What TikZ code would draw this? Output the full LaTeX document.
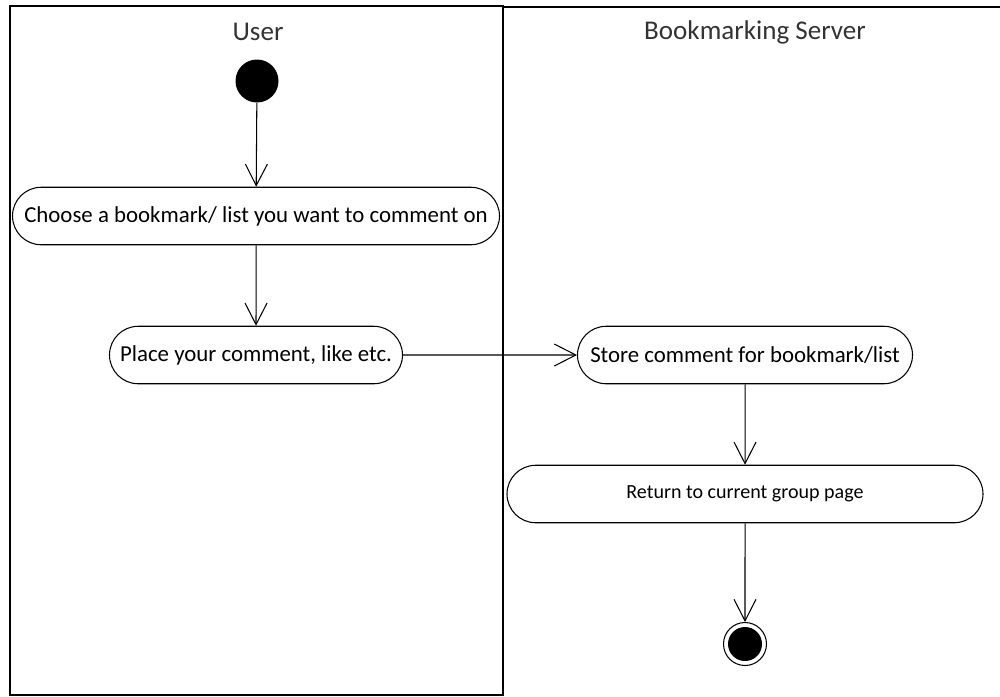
\documentclass[tikz,border=0pt]{standalone}
\usepackage{fontspec}
\setmainfont{Carlito}
\usetikzlibrary{arrows.meta,shapes.misc}
\tikzset{
  action/.style={draw, rounded rectangle, line width=0.6pt, inner sep=0pt,
    minimum height=1.15cm, font=\fontsize{13}{15}\selectfont},
  lanetitle/.style={font=\fontsize{15.4}{17}\selectfont, text=black!80},
  startnode/.style={circle, fill=black, minimum size=0.86cm, inner sep=0pt},
  endnode/.style={circle, draw, line width=0.6pt, minimum size=0.86cm, inner sep=0pt,
    path picture={\fill[black] (path picture bounding box.center) circle (0.34cm);}}
}
\begin{document}
\begin{tikzpicture}[x=0.2mm, y=-0.2mm, line width=0.6pt]
      \useasboundingbox (0,0) rectangle (1000,696);
      % swimlanes
      \draw (10,6) rectangle (503,695);
      \draw (503,7) -- (1000,7);
      \path
        (258,32) node[lanetitle] (user){User}
        (755,32) node[lanetitle] (server){Bookmarking Server}
        (257,81) node[startnode] (start){}
        (256,216) node[action, minimum width=9.74cm] (choose){Choose a bookmark/ list you want to comment on}
        (256,355) node[action, minimum width=5.86cm] (place){Place your comment, like etc.}
        (745,355) node[action, minimum width=6.7cm] (store){Store comment for bookmark/list}
        (745,494) node[action, minimum width=9.52cm, font=\fontsize{11.4}{13}\selectfont] (return){Return to current group page}
        (745,644) node[endnode] (stop){};
      \begin{scope}[-{Straight Barb[length=4.3mm, width=4.4mm]}]
        \draw (start) to (choose);
        \draw (choose) to (place);
        \draw (place) to (store);
        \draw (store) to (return);
        \draw (return) to (stop);
      \end{scope}
    \end{tikzpicture}
\end{document}
